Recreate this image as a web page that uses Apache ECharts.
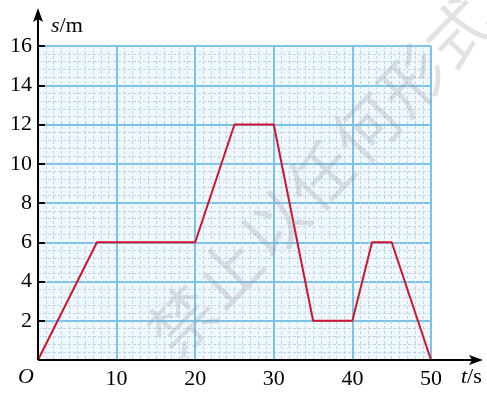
<!DOCTYPE html>
<html>
<head>
<meta charset="utf-8"/>
<script src="https://cdn.jsdelivr.net/npm/echarts@6/dist/echarts.min.js"></script>
<style>
  html, body { margin: 0; padding: 0; background: #fff; }
  #main { width: 487px; height: 395px; }
</style>
</head>
<body>
<div id="main"></div>
<script type="text/javascript">
// 数据：时间 t (s) 与位移 s (m)
var tValues = [0, 7.5, 20, 25, 30, 35, 40, 42.5, 45, 50];
var sValues = [0, 6, 6, 12, 12, 2, 2, 6, 6, 0];
var xTicks = [10, 20, 30, 40, 50];
var yTicks = [2, 4, 6, 8, 10, 12, 14, 16];
var watermark = '禁止以任何形式';

var chart = echarts.init(document.getElementById('main'));
var serif = '"Liberation Serif", "Times New Roman", serif';

var points = tValues.map(function (t, i) { return [t, sValues[i]]; });

var option = {
    animation: false,
    grid: {
        left: 38, right: 56, top: 46, bottom: 35,
        show: true,
        backgroundColor: '#f0f8fd',
        borderWidth: 0
    },
    xAxis: [{
        // 细网格
        type: 'value', min: 0, max: 50, interval: 1, position: 'bottom',
        axisLine: { show: false }, axisTick: { show: false }, axisLabel: { show: false },
        splitLine: { lineStyle: { color: '#b9d7ea', width: 1, type: [3, 2] } }
    }, {
        type: 'value', min: 0, max: 50, interval: 10, position: 'bottom',
        axisLine: { show: false }, axisTick: { show: false },
        axisLabel: {
            margin: 8,
            color: '#000',
            fontFamily: serif,
            fontSize: 22,
            formatter: function (v) { return xTicks.indexOf(v) >= 0 ? String(v) : ''; }
        },
        splitLine: { lineStyle: { color: '#7cc3ea', width: 2 } }
    }],
    yAxis: [{
        type: 'value', min: 0, max: 16, interval: 0.4, position: 'left',
        axisLine: { show: false }, axisTick: { show: false }, axisLabel: { show: false },
        splitLine: { lineStyle: { color: '#b9d7ea', width: 1, type: [3, 2] } }
    }, {
        type: 'value', min: 0, max: 16, interval: 2, position: 'left',
        axisLine: { show: false },
        axisTick: { show: true, inside: true, length: 7, lineStyle: { color: '#000', width: 2 } },
        axisLabel: {
            margin: 6,
            color: '#000',
            fontFamily: serif,
            fontSize: 22,
            formatter: function (v) { return yTicks.indexOf(v) >= 0 ? String(v) : ''; }
        },
        splitLine: { lineStyle: { color: '#7cc3ea', width: 2 } }
    }],
    series: [{
        type: 'line',
        xAxisIndex: 1,
        yAxisIndex: 1,
        data: points,
        symbol: 'none',
        lineStyle: { color: '#d2142c', width: 2 },
        z: 5
    }]
};

chart.setOption(option);

// 坐标轴（带箭头）、标题与水印
var o = chart.convertToPixel({ xAxisIndex: 1, yAxisIndex: 1 }, [0, 0]);
var xEnd = 483, yEnd = 8;
var wmChars = watermark.split('').map(function (ch, i) {
    return {
        type: 'text', silent: true, z: 50,
        x: 182 + i * 46, y: 320 - i * 48,
        rotation: 0.8,
        style: {
            text: ch, fill: 'rgba(150,150,150,0.28)',
            font: '64px "Noto Sans CJK SC"',
            align: 'center', verticalAlign: 'middle'
        }
    };
});

chart.setOption({
    graphic: wmChars.concat([
        { type: 'line', z: 10, shape: { x1: o[0], y1: o[1], x2: xEnd - 6, y2: o[1] }, style: { stroke: '#000', lineWidth: 2 } },
        { type: 'polygon', z: 10, shape: { points: [[xEnd, o[1]], [xEnd - 14, o[1] - 5], [xEnd - 11, o[1]], [xEnd - 14, o[1] + 5]] }, style: { fill: '#000' } },
        { type: 'line', z: 10, shape: { x1: o[0], y1: o[1], x2: o[0], y2: yEnd + 6 }, style: { stroke: '#000', lineWidth: 2 } },
        { type: 'polygon', z: 10, shape: { points: [[o[0], yEnd], [o[0] - 5, yEnd + 14], [o[0], yEnd + 11], [o[0] + 5, yEnd + 14]] }, style: { fill: '#000' } },
        { type: 'text', z: 10, x: o[0] - 12, y: o[1] + 17, style: { text: 'O', font: 'italic 22px ' + serif, fill: '#000', align: 'center', verticalAlign: 'middle' } },
        { type: 'text', z: 10, x: 461, y: 377, style: { text: '{i|t}/s', rich: { i: { font: 'italic 22px ' + serif, fill: '#000' } }, font: '22px ' + serif, fill: '#000', verticalAlign: 'middle' } },
        { type: 'text', z: 10, x: 51, y: 26, style: { text: '{i|s}/m', rich: { i: { font: 'italic 22px ' + serif, fill: '#000' } }, font: '22px ' + serif, fill: '#000', verticalAlign: 'middle' } }
    ])
});
</script>
</body>
</html>
